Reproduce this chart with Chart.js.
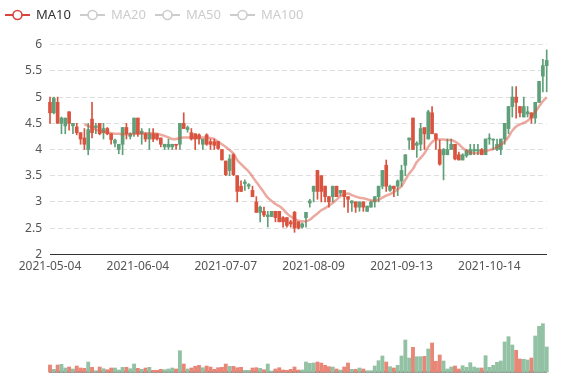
<!DOCTYPE html>
<html><head><meta charset="utf-8">
<script src="https://cdn.jsdelivr.net/npm/chart.js@4.4.1/dist/chart.umd.min.js"></script>
<style>
html,body{margin:0;padding:0;background:#fff;}
#wrap{position:relative;width:577px;height:380px;overflow:hidden;}
#c1{position:absolute;left:0;top:0;width:577px;height:290px;}
#c2{position:absolute;left:0;top:290px;width:577px;height:90px;}
</style></head><body>
<div id="wrap"><canvas id="c1" width="577" height="290"></canvas><canvas id="c2" width="577" height="90"></canvas></div>
<script>
const dates = [
'2021-05-04','2021-05-05','2021-05-06','2021-05-07','2021-05-10','2021-05-11','2021-05-12','2021-05-13','2021-05-14',
'2021-05-17','2021-05-18','2021-05-19','2021-05-20','2021-05-21','2021-05-24','2021-05-25','2021-05-26','2021-05-27','2021-05-28',
'2021-05-31','2021-06-01','2021-06-02','2021-06-03','2021-06-04','2021-06-07','2021-06-08','2021-06-09','2021-06-10','2021-06-11',
'2021-06-14','2021-06-15','2021-06-16','2021-06-17','2021-06-18','2021-06-21','2021-06-22','2021-06-23','2021-06-24','2021-06-25',
'2021-06-28','2021-06-29','2021-06-30','2021-07-01','2021-07-02','2021-07-05','2021-07-06','2021-07-07','2021-07-08','2021-07-09',
'2021-07-12','2021-07-13','2021-07-14','2021-07-15','2021-07-16','2021-07-19','2021-07-20','2021-07-21','2021-07-22','2021-07-23',
'2021-07-26','2021-07-27','2021-07-28','2021-07-29','2021-07-30','2021-08-02','2021-08-03','2021-08-04','2021-08-05','2021-08-06',
'2021-08-09','2021-08-10','2021-08-11','2021-08-12','2021-08-13','2021-08-16','2021-08-17','2021-08-18','2021-08-19','2021-08-20',
'2021-08-23','2021-08-24','2021-08-25','2021-08-26','2021-08-27','2021-08-30','2021-08-31','2021-09-01','2021-09-02','2021-09-03',
'2021-09-08','2021-09-09','2021-09-10','2021-09-13','2021-09-14','2021-09-15','2021-09-16','2021-09-17','2021-09-20','2021-09-21',
'2021-09-22','2021-09-23','2021-09-24','2021-09-27','2021-09-28','2021-09-29','2021-09-30','2021-10-01','2021-10-04','2021-10-05',
'2021-10-06','2021-10-07','2021-10-08','2021-10-11','2021-10-12','2021-10-13','2021-10-14','2021-10-15','2021-10-18','2021-10-19',
'2021-10-20','2021-10-21','2021-10-22','2021-10-25','2021-10-26','2021-10-27','2021-10-28','2021-10-29','2021-11-01','2021-11-02',
'2021-11-03','2021-11-04'
];
const tickLabels = ['2021-05-04','2021-06-04','2021-07-07','2021-08-09','2021-09-13','2021-10-14'];
const legendNames = ['MA10','MA20','MA50','MA100'];

const openPrices = [
4.90,4.70,4.90,4.50,4.45,4.72,4.45,4.43,4.32,4.22,4.00,4.58,4.42,4.50,4.32,4.40,4.30,4.12,4.00,4.10,
4.42,4.25,4.30,4.60,4.30,4.30,4.20,4.30,4.30,4.22,4.05,4.05,4.05,4.10,4.10,4.50,4.38,4.32,4.30,4.28,
4.10,4.28,4.15,4.15,4.15,4.00,3.78,3.60,3.90,3.50,3.30,3.35,3.30,3.22,3.00,2.80,2.82,2.72,2.72,2.82,
2.82,2.70,2.70,2.62,2.80,2.62,2.52,2.70,2.98,3.20,3.60,3.50,3.30,3.10,3.10,3.30,3.17,3.22,3.10,2.98,
3.00,2.90,3.00,2.82,2.90,3.00,3.10,3.30,3.70,3.22,3.30,3.30,3.40,3.70,4.18,4.60,4.08,4.10,4.42,4.20,
4.70,4.30,4.00,3.90,3.90,4.00,4.10,3.90,3.80,3.88,3.90,3.97,3.97,4.00,3.90,4.20,4.18,4.00,4.00,4.20,
4.40,4.82,5.00,4.82,4.62,4.68,4.70,4.60,4.90,5.40,5.60
];
const closePrices = [
4.70,4.98,4.50,4.60,4.60,4.50,4.50,4.32,4.20,4.10,4.38,4.32,4.45,4.30,4.40,4.30,4.19,4.18,4.10,4.42,
4.30,4.30,4.60,4.30,4.35,4.20,4.30,4.20,4.20,4.10,4.10,4.10,4.10,4.08,4.50,4.40,4.42,4.20,4.20,4.20,
4.20,4.10,4.10,4.08,4.02,3.80,3.52,3.82,3.52,3.20,3.20,3.38,3.33,3.10,2.80,2.90,2.75,2.75,2.82,2.70,
2.62,2.62,2.55,2.58,2.50,2.50,2.58,2.80,3.02,3.30,3.20,3.20,3.10,3.00,3.30,3.10,3.22,3.10,3.05,3.02,
2.90,3.00,2.90,2.92,3.00,3.10,3.30,3.60,3.30,3.30,3.25,3.40,3.60,3.90,4.22,4.00,4.12,4.40,4.30,4.72,
4.30,4.20,3.72,4.00,4.00,4.10,3.82,3.80,3.90,3.98,4.00,4.00,4.00,3.90,4.20,4.22,4.20,4.10,4.20,4.50,
4.82,5.00,4.90,4.70,4.82,4.72,4.60,4.90,5.30,5.60,5.70
];
const lowPrices = [
4.50,4.68,4.50,4.30,4.30,4.37,4.30,4.28,4.10,4.00,3.90,4.22,4.30,4.28,4.20,4.28,4.10,4.05,3.92,3.90,
4.20,4.20,4.25,4.25,4.10,4.15,4.00,4.15,4.18,4.05,4.00,4.00,4.00,4.00,4.00,4.40,4.33,4.18,4.00,4.10,
4.00,4.08,4.00,4.00,4.00,3.80,3.50,3.50,3.50,3.00,3.20,3.22,3.25,3.10,2.80,2.62,2.72,2.52,2.72,2.62,
2.62,2.52,2.52,2.52,2.42,2.48,2.50,2.52,2.90,3.00,3.05,3.00,3.00,2.90,3.00,3.10,3.12,2.90,2.80,2.82,
2.80,2.82,2.82,2.82,2.90,2.90,3.00,3.25,3.20,3.20,3.10,3.12,3.30,3.50,4.00,4.00,3.85,3.98,4.00,4.20,
4.30,4.00,3.70,3.42,3.90,4.00,3.80,3.80,3.80,3.85,3.90,3.90,3.90,3.90,3.90,4.10,4.00,3.98,3.90,4.10,
4.30,4.62,4.60,4.62,4.62,4.62,4.50,4.50,4.90,5.10,5.10
];
const highPrices = [
5.00,5.00,5.00,4.62,4.60,4.72,4.50,4.50,4.32,4.40,4.50,4.90,4.50,4.50,4.50,4.42,4.30,4.20,4.10,4.42,
4.50,4.32,4.60,4.60,4.40,4.32,4.40,4.40,4.30,4.22,4.10,4.20,4.10,4.10,4.50,4.70,4.45,4.40,4.30,4.30,
4.20,4.30,4.20,4.20,4.15,4.00,3.78,3.90,3.92,3.50,3.40,3.42,3.35,3.30,3.10,2.92,2.90,2.82,2.82,2.82,
2.82,2.72,2.70,2.65,2.82,2.62,2.60,2.80,3.05,3.30,3.60,3.50,3.30,3.10,3.30,3.30,3.22,3.22,3.10,3.02,
3.00,3.00,3.00,2.92,3.02,3.10,3.30,3.60,3.80,3.32,3.30,3.42,3.70,3.90,4.22,4.60,4.15,4.50,4.40,4.75,
4.82,4.30,4.18,4.02,4.20,4.20,4.10,3.95,3.92,4.00,4.10,4.10,4.10,4.02,4.20,4.30,4.20,4.20,4.20,4.50,
4.82,5.20,5.20,4.82,5.00,4.82,4.70,4.90,5.30,5.72,5.90
];
const ma10 = [
null,null,null,null,null,null,null,null,null,4.48,
4.45,4.42,4.38,4.36,4.34,4.33,4.31,4.30,4.30,4.29,
4.29,4.29,4.30,4.30,4.30,4.31,4.31,4.31,4.30,4.28,
4.26,4.23,4.20,4.20,4.22,4.23,4.23,4.23,4.23,4.23,
4.23,4.23,4.22,4.20,4.15,4.10,4.05,3.99,3.92,3.80,
3.72,3.65,3.58,3.48,3.38,3.28,3.18,3.08,3.02,2.96,
2.92,2.86,2.78,2.72,2.68,2.64,2.63,2.63,2.66,2.72,
2.78,2.84,2.88,2.93,2.98,3.04,3.11,3.14,3.16,3.13,
3.10,3.08,3.07,3.05,3.03,3.02,3.04,3.08,3.12,3.15,
3.19,3.24,3.30,3.42,3.54,3.63,3.76,3.84,3.93,4.05,
4.14,4.19,4.19,4.19,4.18,4.18,4.15,4.10,4.03,3.98,
3.94,3.93,3.93,3.95,3.97,3.99,4.01,4.05,4.09,4.15,
4.24,4.36,4.44,4.48,4.51,4.55,4.62,4.72,4.82,4.92,
5.00
];
const volumes = [
7.0,2.7,7.0,7.7,4.0,5.0,3.0,6.0,4.0,3.7,10.0,4.7,1.3,5.0,3.3,2.3,4.0,4.0,2.0,4.7,
4.7,3.3,8.0,3.7,2.7,4.0,4.7,1.7,1.7,2.7,2.3,3.0,4.0,3.0,21.3,8.0,3.0,4.0,5.7,6.7,
4.3,6.0,5.0,2.7,4.3,4.7,8.0,5.7,5.7,4.3,4.7,1.7,1.7,4.0,4.3,3.7,2.3,8.0,1.0,3.0,
4.3,2.0,1.7,2.7,5.0,2.0,2.0,10.0,8.7,9.0,10.0,9.0,6.7,5.3,5.0,3.0,2.0,5.0,9.0,2.7,
2.7,4.0,3.0,1.3,1.3,6.0,11.3,16.0,10.0,5.3,4.0,6.7,16.0,32.0,14.0,24.7,15.3,15.3,15.7,23.0,
29.0,10.7,17.0,11.0,3.0,5.0,6.0,3.0,6.3,4.7,9.3,5.0,4.0,4.0,16.3,4.7,6.7,9.7,11.0,30.0,
35.3,27.0,21.7,13.0,12.7,12.0,14.0,36.0,45.7,48.3,25.0
];

const UP = '#5f9f79', DOWN = '#d9533f';
const UP_VOL = '#93c1a3', DOWN_VOL = '#e88677';
const isUp = i => closePrices[i] >= openPrices[i];
const FONT = '"Noto Sans", "Liberation Sans", sans-serif';

const wickData = dates.map((d, i) => [lowPrices[i], highPrices[i]]);
const bodyData = dates.map((d, i) => [openPrices[i], closePrices[i]]);

const legendPlugin = {
  id: 'maLegend',
  afterDraw(chart) {
    const ctx = chart.ctx;
    ctx.save();
    const y = 15;
    legendNames.forEach((name, k) => {
      const x = 5 + k * 75;
      const active = k === 0;
      const col = active ? '#d9453d' : '#cccccc';
      ctx.strokeStyle = col;
      ctx.lineWidth = 2;
      ctx.beginPath(); ctx.moveTo(x, y); ctx.lineTo(x + 25, y); ctx.stroke();
      ctx.beginPath(); ctx.arc(x + 12.5, y, 4.5, 0, Math.PI * 2);
      ctx.fillStyle = '#fff'; ctx.fill();
      ctx.lineWidth = 1.6; ctx.stroke();
      ctx.fillStyle = active ? '#333' : '#cccccc';
      ctx.font = '13px ' + FONT;
      ctx.textBaseline = 'middle';
      ctx.textAlign = 'left';
      ctx.fillText(name, x + 31, y + 0.5);
    });
    ctx.restore();
  }
};

new Chart(document.getElementById('c1'), {
  type: 'bar',
  data: {
    labels: dates,
    datasets: [
      {
        type: 'line', label: 'MA10', data: ma10, order: 0,
        borderColor: 'rgba(217,83,63,0.5)', borderWidth: 2.5, pointRadius: 0,
        tension: 0.4, fill: false
      },
      {
        label: 'wick', data: wickData, order: 2, grouped: false,
        barThickness: 1, clip: false,
        backgroundColor: dates.map((d, i) => isUp(i) ? UP : DOWN)
      },
      {
        label: 'body', data: bodyData, order: 1, grouped: false,
        barThickness: 3, minBarLength: 1, clip: false,
        backgroundColor: dates.map((d, i) => isUp(i) ? UP : DOWN)
      }
    ]
  },
  options: {
    responsive: false, animation: false,
    layout: { padding: { left: 0, right: 30.3, top: 44.7, bottom: 0 } },
    plugins: { legend: { display: false }, tooltip: { enabled: false } },
    scales: {
      x: {
        type: 'category', offset: false,
        afterFit: s => { s.height = 35.7; },
        border: { display: true, color: '#333', width: 1 },
        grid: {
          display: true, drawOnChartArea: false, drawTicks: true, tickLength: 4,
          tickColor: c => tickLabels.includes(dates[c.index]) ? '#333' : 'rgba(0,0,0,0)'
        },
        ticks: {
          autoSkip: false, maxRotation: 0, padding: 1, color: '#555',
          font: { size: 12, family: FONT },
          callback: function (v) { const d = this.getLabelForValue(v); return tickLabels.includes(d) ? d : null; }
        }
      },
      y: {
        min: 2, max: 6,
        afterFit: s => { s.width = 50; },
        border: { display: false, dash: [5, 3] },
        grid: { color: '#dedede', drawTicks: false, lineWidth: 1 },
        ticks: {
          stepSize: 0.5, padding: 8, color: '#555', font: { size: 12, family: FONT },
          callback: v => String(Math.round(v * 10) / 10)
        }
      }
    }
  },
  plugins: [legendPlugin]
});

new Chart(document.getElementById('c2'), {
  type: 'bar',
  data: {
    labels: dates,
    datasets: [{
      label: 'Volume', data: volumes, barThickness: 3.2, clip: false,
      backgroundColor: dates.map((d, i) => isUp(i) ? UP_VOL : DOWN_VOL)
    }]
  },
  options: {
    responsive: false, animation: false,
    layout: { padding: { left: 50, right: 30.3, top: 7, bottom: 8 } },
    plugins: { legend: { display: false }, tooltip: { enabled: false } },
    scales: {
      x: {
        type: 'category', offset: false,
        afterFit: s => { s.height = 0; },
        border: { display: true, color: '#333', width: 1.5 },
        grid: { display: false },
        ticks: { display: false }
      },
      y: { display: false, min: 0, max: 75 }
    }
  }
});
</script>
</body></html>
